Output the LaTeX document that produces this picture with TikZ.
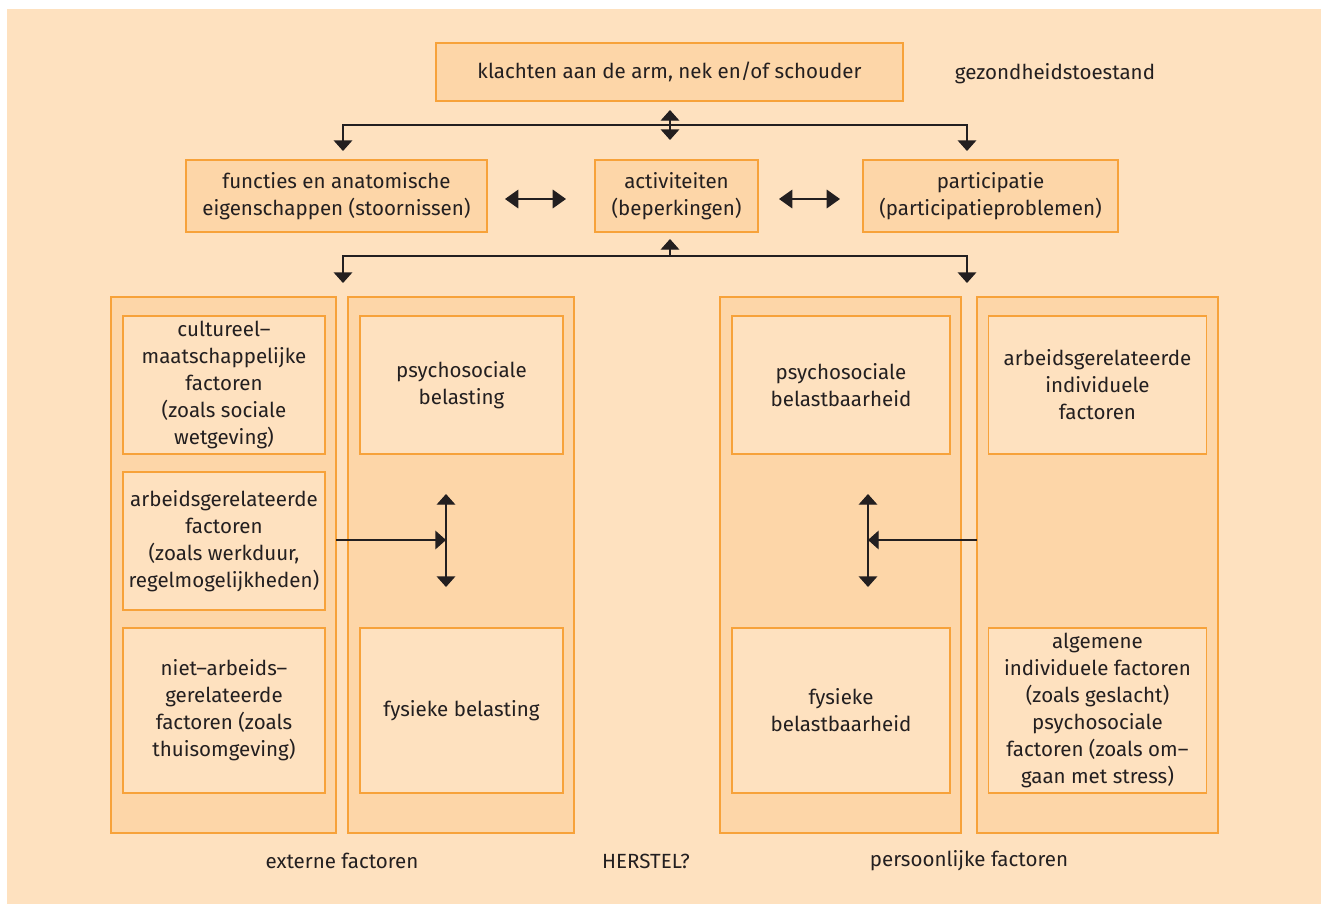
\documentclass[tikz,border=0pt]{standalone}
\usepackage{fontspec}
\setmainfont{Fira Sans}
\usetikzlibrary{arrows.meta}
\definecolor{bg}{HTML}{FEE1BF}
\definecolor{fillD}{HTML}{FDD6A8}
\definecolor{edge}{HTML}{F7A23A}
\definecolor{ink}{HTML}{231F20}
\begin{document}
\begin{tikzpicture}[x=0.75pt,y=-0.75pt,
  every node/.style={font=\fontsize{15.4}{20.25}\selectfont, text=ink},
  wh/.style 2 args={minimum width=#1*0.75pt, minimum height=#2*0.75pt},
  box/.style={draw=edge, line width=1pt, fill=fillD, align=center, inner sep=0pt},
  innerbox/.style={draw=edge, line width=1pt, fill=bg, align=center, inner sep=0pt},
  col/.style={draw=edge, line width=1pt, fill=fillD, inner sep=0pt},
  conn/.style={draw=ink, line width=1pt},
  tip/.style={-{Triangle[length=8pt,width=14pt]}},
  dtip/.style={{Triangle[length=8pt,width=14pt]}-{Triangle[length=8pt,width=14pt]}},
  htip/.style={{Triangle[length=10pt,width=14pt]}-{Triangle[length=10pt,width=14pt]}},
  lbl/.style={align=center}
]
\useasboundingbox (0,0) rectangle (1321,904);
\fill[white] (0,0) rectangle (1321,904);
\fill[bg] (7,9) rectangle (1321,904);

% top row
\node[box, wh={467}{58}] (top) at (669.5,72) {klachten aan de arm, nek en/of schouder};
\node[lbl] (gez) at (1055,74) {gezondheidstoestand};

% middle row
\node[box, wh={301}{72}] (func) at (336.5,196) {functies en anatomische\\eigenschappen (stoornissen)};
\node[box, wh={163}{72}] (act) at (676.5,196) {activiteiten\\(beperkingen)};
\node[box, wh={255}{72}] (part) at (990.5,196) {participatie\\(participatieproblemen)};

% columns
\node[col, wh={225}{536}] (c1) at (223.5,565) {};
\node[col, wh={226}{536}] (c2) at (461,565) {};
\node[col, wh={241}{536}] (c3) at (840.5,565) {};
\node[col, wh={241}{536}] (c4) at (1097.5,565) {};

% inner boxes column 1
\node[innerbox, wh={202}{138}] (cult) at (224,385) {cultureel–\\maatschappelijke\\factoren\\(zoals sociale\\wetgeving)};
\node[innerbox, wh={202}{138}] (arb) at (224,541) {arbeidsgerelateerde\\factoren\\(zoals werkduur,\\regelmogelijkheden)};
\node[innerbox, wh={202}{165}] (niet) at (224,710.5) {niet–arbeids–\\gerelateerde\\factoren (zoals\\thuisomgeving)};
% column 2
\node[innerbox, wh={203}{138}] (psb) at (461.5,385) {psychosociale\\belasting};
\node[innerbox, wh={203}{165}] (fyb) at (461.5,710.5) {fysieke belasting};
% column 3
\node[innerbox, wh={218}{138}] (psbb) at (841,385) {psychosociale\\belastbaarheid};
\node[innerbox, wh={218}{165}] (fybb) at (841,710.5) {fysieke\\belastbaarheid};
% column 4
\node[innerbox, wh={218}{138}] (arbi) at (1097.5,385) {arbeidsgerelateerde\\individuele\\factoren};
\node[innerbox, wh={218}{165}] (alg) at (1097.5,710.5) {algemene\\individuele factoren\\(zoals geslacht)\\psychosociale\\factoren (zoals om–\\gaan met stress)};

% bottom labels
\node[lbl] (ext) at (342,861) {externe factoren};
\node[lbl] (her) at (646,861) {HERSTEL?};
\node[lbl] (pers) at (969,861) {persoonlijke factoren};

% connector coordinates
\coordinate (tA) at (670,110);
\coordinate (tB) at (670,140);
\coordinate (hL) at (343,125);
\coordinate (hR) at (967,125);
\coordinate (dL) at (343,151);
\coordinate (dR) at (967,151);
\coordinate (mA) at (505,199);
\coordinate (mB) at (566,199);
\coordinate (mC) at (779,199);
\coordinate (mD) at (840,199);
\coordinate (bU) at (670,239);
\coordinate (bH) at (670,256);
\coordinate (bL) at (343,256);
\coordinate (bR) at (967,256);
\coordinate (bdL) at (343,283);
\coordinate (bdR) at (967,283);
\coordinate (vLt) at (446,494);
\coordinate (vLb) at (446,587);
\coordinate (vRt) at (868,494);
\coordinate (vRb) at (868,587);
\coordinate (aL) at (336,540);
\coordinate (aLe) at (446,540);
\coordinate (aR) at (977,540);
\coordinate (aRe) at (868,540);

\draw[conn, dtip] (dL) -- (hL) -- (hR) -- (dR);
\draw[conn, dtip] (tA) -- (tB);
\draw[conn, htip] (mA) -- (mB);
\draw[conn, htip] (mC) -- (mD);
\draw[conn, dtip] (bdL) -- (bL) -- (bR) -- (bdR);
\draw[conn, tip] (bH) -- (bU);
\draw[conn, dtip] (vLt) -- (vLb);
\draw[conn, dtip] (vRt) -- (vRb);
\draw[conn, tip] (aL) -- (aLe);
\draw[conn, tip] (aR) -- (aRe);
\end{tikzpicture}
\end{document}
